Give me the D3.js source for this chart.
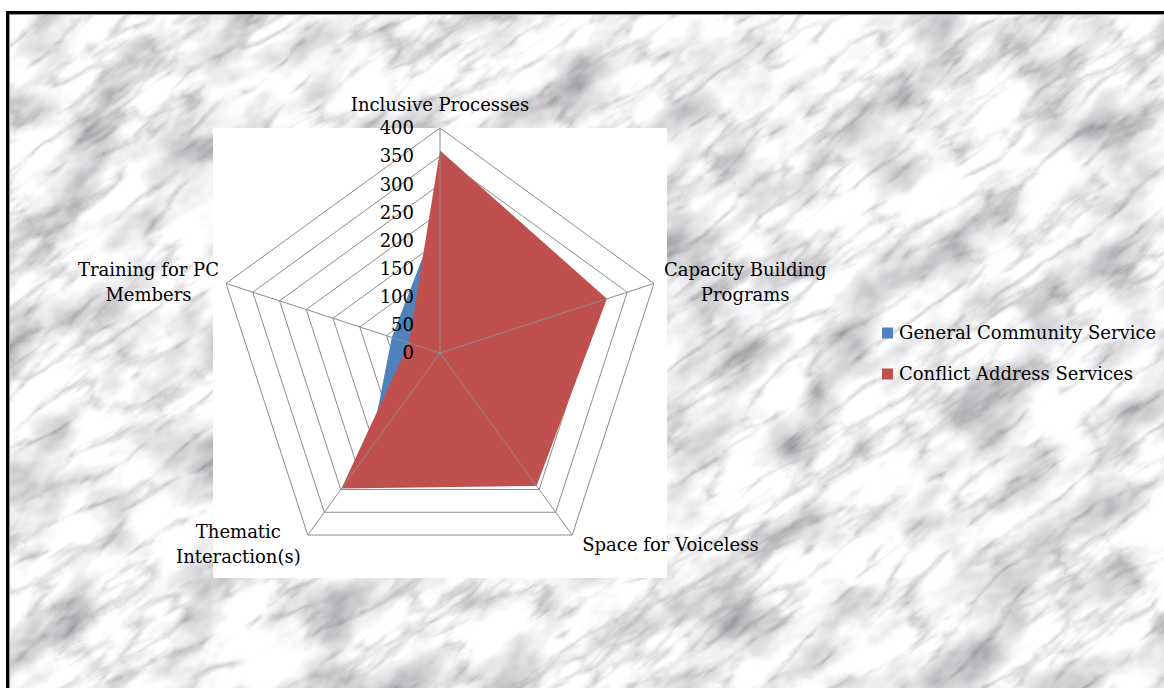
<!DOCTYPE html>
<html>
<head>
<meta charset="utf-8">
<script src="https://cdn.jsdelivr.net/npm/d3@7"></script>
<style>
  body { margin: 0; background: #fff; }
  text { font-family: "DejaVu Serif", serif; font-size: 18px; fill: #000; }
</style>
</head>
<body>
<script>
// chart data
var axes = ["Inclusive Processes", "Capacity Building Programs", "Space for Voiceless",
            "Thematic Interaction(s)", "Training for PC Members"];
var axisLines = [["Inclusive Processes"], ["Capacity Building", "Programs"], ["Space for Voiceless"],
                 ["Thematic", "Interaction(s)"], ["Training for PC", "Members"]];
var seriesNames = ["General Community Service", "Conflict Address Services"];
var generalValues = [250, 200, 180, 212, 90];
var conflictValues = [360, 312, 292, 298, 58];
var tickValues = [0, 50, 100, 150, 200, 250, 300, 350, 400];
var colors = ["#4F81BD", "#C0504D"];

var W = 1164, H = 688;
var cx = 440, cy = 353, R = 225;

var svg = d3.select("body").append("svg").attr("width", W).attr("height", H);

// marble-ish background: cloudy patches times thin veins
var defs = svg.append("defs");
var f = defs.append("filter").attr("id", "marble")
    .attr("x", 0).attr("y", 0).attr("width", "100%").attr("height", "100%");
f.append("feTurbulence").attr("type", "fractalNoise")
    .attr("baseFrequency", "0.012 0.02").attr("numOctaves", 4).attr("seed", 11).attr("result", "cloud");
f.append("feColorMatrix").attr("in", "cloud").attr("type", "matrix")
    .attr("values", "1.3 0 0 0 0.25  1.3 0 0 0 0.25  1.3 0 0 0 0.27  0 0 0 0 1").attr("result", "c2");
f.append("feTurbulence").attr("type", "turbulence")
    .attr("baseFrequency", "0.01 0.035").attr("numOctaves", 5).attr("seed", 4).attr("result", "vein");
f.append("feColorMatrix").attr("in", "vein").attr("type", "matrix")
    .attr("values", "1.4 0 0 0 0.6  1.4 0 0 0 0.6  1.4 0 0 0 0.6  0 0 0 0 1").attr("result", "v2");
f.append("feBlend").attr("in", "c2").attr("in2", "v2").attr("mode", "multiply");
defs.append("clipPath").attr("id", "bgclip")
  .append("rect").attr("x", 9).attr("y", 14).attr("width", W).attr("height", H);

svg.append("g").attr("clip-path", "url(#bgclip)")
  .append("g").attr("transform", "rotate(-35 582 344)")
  .append("rect").attr("x", -400).attr("y", -500).attr("width", 2000).attr("height", 1700)
    .attr("filter", "url(#marble)");

// frame
svg.append("line").attr("x1", 6).attr("x2", W).attr("y1", 12.5).attr("y2", 12.5)
    .attr("stroke", "#000").attr("stroke-width", 3);
svg.append("line").attr("x1", 7.5).attr("x2", 7.5).attr("y1", 11).attr("y2", H)
    .attr("stroke", "#000").attr("stroke-width", 3);
svg.append("line").attr("x1", 9).attr("x2", W).attr("y1", 14.5).attr("y2", 14.5)
    .attr("stroke", "#999").attr("stroke-width", 1);
svg.append("line").attr("x1", 9.5).attr("x2", 9.5).attr("y1", 14).attr("y2", H)
    .attr("stroke", "#999").attr("stroke-width", 1);

// plot area
svg.append("rect").attr("x", 213).attr("y", 128).attr("width", 454).attr("height", 450).attr("fill", "#fff");

var r = d3.scaleLinear().domain([0, 400]).range([0, R]);
var angle = function(i) { return -Math.PI / 2 + i * 2 * Math.PI / axes.length; };
var pt = function(v, i) { return [cx + r(v) * Math.cos(angle(i)), cy + r(v) * Math.sin(angle(i))]; };

var g = svg.append("g");
var line = d3.line();

// rings
g.selectAll(".ring").data(tickValues.slice(1)).join("path")
  .attr("class", "ring")
  .attr("d", function(t) { return line(axes.map(function(a, i) { return pt(t, i); })) + "Z"; })
  .attr("fill", "none").attr("stroke", "#8c8c8c").attr("stroke-width", 1);

// series areas
var series = [generalValues, conflictValues];
g.selectAll(".area").data(series).join("path")
  .attr("class", "area")
  .attr("d", function(vals) { return line(vals.map(pt)) + "Z"; })
  .attr("fill", function(d, k) { return colors[k]; });

// spokes
g.selectAll(".spoke").data(axes).join("line")
  .attr("x1", cx).attr("y1", cy)
  .attr("x2", function(d, i) { return pt(400, i)[0]; })
  .attr("y2", function(d, i) { return pt(400, i)[1]; })
  .attr("stroke", "#8c8c8c").attr("stroke-width", 1);

// tick labels
g.selectAll(".tick").data(tickValues).join("text")
  .attr("x", cx - 26).attr("y", function(t) { return cy - r(t); })
  .attr("dy", "0.35em").attr("text-anchor", "end")
  .text(function(t) { return t; });

// axis labels
axisLines.forEach(function(lines, i) {
  var v = pt(400, i);
  var dx = Math.cos(angle(i)), dyv = Math.sin(angle(i));
  var t = g.append("text").attr("text-anchor", "middle");
  var sp = lines.map(function(s) { return t.append("tspan").text(s); });
  var w = d3.max(sp, function(s) { return s.node().getComputedTextLength(); });
  var x = v[0], mid;
  if (dx > 0.3) x = v[0] + 10 + w / 2;
  else if (dx < -0.3) x = v[0] - 7 - w / 2;
  else if (dyv > 0 && dx > 0) x = v[0] + 6 + w / 2;
  else if (dyv > 0 && dx < 0) x = v[0] - 7 - w / 2;
  if (dyv < -0.9) mid = v[1] - 17;
  else if (dyv > 0.5) mid = v[1] + 15.5;
  else mid = v[1] + 5;
  sp.forEach(function(s, k) {
    s.attr("x", x).attr("y", mid + (k - (lines.length - 1) / 2) * 25.5);
  });
});

// legend
var leg = svg.append("g").attr("transform", "translate(882,333)");
var items = leg.selectAll("g").data(seriesNames).join("g")
  .attr("transform", function(d, k) { return "translate(0," + k * 41 + ")"; });
items.append("rect").attr("x", 0).attr("y", -5.5).attr("width", 11).attr("height", 11)
  .attr("fill", function(d, k) { return colors[k]; });
items.append("text").attr("x", 17).attr("dy", "0.35em").text(function(d) { return d; });
</script>
</body>
</html>
